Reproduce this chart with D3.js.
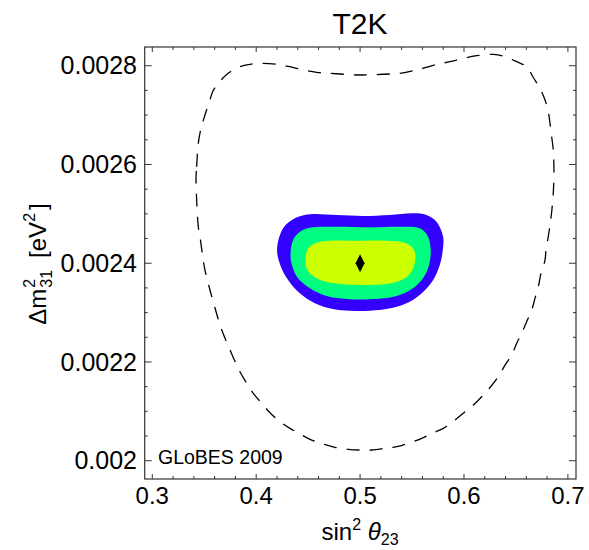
<!DOCTYPE html>
<html><head><meta charset="utf-8">
<script src="https://cdn.jsdelivr.net/npm/d3@7"></script>
<style>body{margin:0;background:#fff} text{font-family:"Liberation Sans",Arial,Helvetica,sans-serif;fill:#000}</style>
</head><body><svg id="c" width="589" height="550"></svg>
<script>
const title = "T2K";
const xTicks = [0.3, 0.4, 0.5, 0.6, 0.7];
const xTickLabels = ["0.3", "0.4", "0.5", "0.6", "0.7"];
const yTicks = [0.002, 0.0022, 0.0024, 0.0026, 0.0028];
const yTickLabels = ["0.002", "0.0022", "0.0024", "0.0026", "0.0028"];
const bestFit = [0.5, 0.0024];
const stamp = "GLoBES 2009";

// dashed contour: [sin^2 theta23, dm31^2 (eV^2)]
const dashedContour = [
 [0.3421,2.5726e-3],[0.3427,2.5954e-3],[0.3443,2.6428e-3],[0.3469,2.6732e-3],[0.3507,2.7002e-3],
 [0.3555,2.7305e-3],[0.3584,2.7488e-3],[0.3635,2.7644e-3],[0.3731,2.7846e-3],[0.3844,2.7980e-3],
 [0.3940,2.8028e-3],[0.4068,2.8049e-3],[0.4197,2.8028e-3],[0.4325,2.7980e-3],[0.4453,2.7913e-3],
 [0.4582,2.7866e-3],[0.4710,2.7846e-3],[0.4855,2.7826e-3],[0.4999,2.7812e-3],[0.5143,2.7818e-3],
 [0.5288,2.7832e-3],[0.5384,2.7846e-3],[0.5545,2.7913e-3],[0.5737,2.8028e-3],[0.5865,2.8081e-3],
 [0.5993,2.8150e-3],[0.6122,2.8203e-3],[0.6282,2.8231e-3],[0.6378,2.8196e-3],[0.6507,2.8081e-3],
 [0.6603,2.7980e-3],[0.6667,2.7761e-3],[0.6731,2.7542e-3],[0.6780,2.7305e-3],[0.6811,2.7068e-3],
 [0.6828,2.6833e-3],[0.6844,2.6562e-3],[0.6859,2.6293e-3],[0.6866,2.5821e-3],[0.6859,2.5416e-3],
 [0.6844,2.5043e-3],[0.6828,2.4774e-3],[0.6811,2.4537e-3],[0.6789,2.4267e-3],[0.6780,2.4065e-3],
 [0.6741,2.3795e-3],[0.6715,2.3524e-3],[0.6683,2.3289e-3],[0.6652,2.3052e-3],[0.6603,2.2815e-3],
 [0.6555,2.2580e-3],[0.6507,2.2378e-3],[0.6459,2.2141e-3],[0.6395,2.1938e-3],[0.6330,2.1701e-3],
 [0.6257,2.1499e-3],[0.6186,2.1331e-3],[0.6090,2.1128e-3],[0.5993,2.0960e-3],[0.5913,2.0824e-3],
 [0.5801,2.0656e-3],[0.5705,2.0567e-3],[0.5593,2.0454e-3],[0.5480,2.0365e-3],[0.5352,2.0284e-3],
 [0.5240,2.0251e-3],[0.5112,2.0217e-3],[0.4999,2.0217e-3],[0.4886,2.0231e-3],[0.4758,2.0271e-3],
 [0.4646,2.0338e-3],[0.4534,2.0419e-3],[0.4422,2.0541e-3],[0.4325,2.0656e-3],[0.4229,2.0790e-3],
 [0.4133,2.0972e-3],[0.4053,2.1163e-3],[0.3972,2.1365e-3],[0.3909,2.1568e-3],[0.3844,2.1803e-3],
 [0.3748,2.2242e-3],[0.3700,2.2479e-3],[0.3652,2.2748e-3],[0.3587,2.3220e-3],[0.3555,2.3457e-3],
 [0.3507,2.3862e-3],[0.3481,2.4201e-3],[0.3466,2.4436e-3],[0.3443,2.4739e-3],[0.3427,2.5280e-3]
];

// filled contours (outer to inner)
const contourBlue = [
 [0.4201,2.4267e-3],[0.4259,2.4707e-3],[0.4372,2.4909e-3],[0.4516,2.4990e-3],[0.4773,2.4976e-3],
 [0.5029,2.4956e-3],[0.5286,2.4976e-3],[0.5510,2.5011e-3],[0.5639,2.4976e-3],[0.5735,2.4841e-3],
 [0.5799,2.4537e-3],[0.5796,2.4267e-3],[0.5767,2.3964e-3],[0.5703,2.3660e-3],[0.5606,2.3417e-3],
 [0.5478,2.3220e-3],[0.5318,2.3099e-3],[0.5093,2.3038e-3],[0.4901,2.3038e-3],[0.4737,2.3072e-3],
 [0.4564,2.3188e-3],[0.4420,2.3390e-3],[0.4307,2.3660e-3],[0.4243,2.3903e-3]
];
const contourGreen = [
 [0.4330,2.4166e-3],[0.4355,2.4470e-3],[0.4420,2.4638e-3],[0.4516,2.4719e-3],[0.4773,2.4739e-3],
 [0.5093,2.4727e-3],[0.5414,2.4739e-3],[0.5575,2.4707e-3],[0.5654,2.4537e-3],[0.5680,2.4267e-3],
 [0.5664,2.3964e-3],[0.5606,2.3694e-3],[0.5510,2.3492e-3],[0.5350,2.3336e-3],[0.5093,2.3269e-3],
 [0.4869,2.3275e-3],[0.4677,2.3336e-3],[0.4516,2.3492e-3],[0.4403,2.3694e-3],[0.4349,2.3929e-3]
];
const contourYellow = [
 [0.4474,2.4065e-3],[0.4500,2.4302e-3],[0.4580,2.4415e-3],[0.4708,2.4456e-3],[0.4997,2.4456e-3],
 [0.5254,2.4456e-3],[0.5430,2.4415e-3],[0.5510,2.4302e-3],[0.5533,2.4132e-3],[0.5510,2.3897e-3],
 [0.5447,2.3714e-3],[0.5318,2.3605e-3],[0.5093,2.3558e-3],[0.4836,2.3573e-3],[0.4644,2.3639e-3],
 [0.4532,2.3761e-3],[0.4484,2.3897e-3]
];
const fillColors = ["#3300ff", "#00ff80", "#ccff00"];

const svg = d3.select("#c");
const L = 144.7, R = 576, T = 47, B = 479;
const x = d3.scaleLinear().domain([0.2927, 0.7078]).range([L, R]);
const y = d3.scaleLinear().domain([0.0019630, 0.0028379]).range([B, T]);

svg.append("defs").append("clipPath").attr("id", "clip")
  .append("rect").attr("x", L).attr("y", T).attr("width", R - L).attr("height", B - T);
const plot = svg.append("g").attr("clip-path", "url(#clip)");

const line = d3.line().x(d => x(d[0])).y(d => y(d[1])).curve(d3.curveCatmullRomClosed.alpha(0.5));

[contourBlue, contourGreen, contourYellow].forEach((c, i) => {
  plot.append("path").attr("d", line(c)).attr("fill", fillColors[i]).attr("stroke", "none");
});
plot.append("path").attr("d", line(dashedContour)).attr("fill", "none")
  .attr("stroke", "#000").attr("stroke-width", 1.3).attr("stroke-dasharray", "13,10");

// best-fit diamond
plot.append("path")
  .attr("d", d3.symbol().type(d3.symbolDiamond).size(70)())
  .attr("transform", `translate(${x(bestFit[0])},${y(bestFit[1])}) scale(1,1.15)`)
  .attr("fill", "#000");

// frame
const frame = svg.append("g");
frame.append("rect").attr("x", L).attr("y", T).attr("width", R - L).attr("height", B - T)
  .attr("fill", "none").attr("stroke", "#333").attr("stroke-width", 1.2);

const xMinor = d3.range(0.28, 0.72, 0.02).filter(v => v > 0.293 && v < 0.707);
const yMinor = d3.range(0.00195, 0.00285, 0.00005).filter(v => v > 0.001964 && v < 0.002837);
const tk = frame.append("g").attr("stroke", "#333").attr("stroke-width", 1);
xMinor.forEach(v => {
  const major = xTicks.some(t => Math.abs(t - v) < 1e-6);
  const len = major ? 5 : 3;
  tk.append("line").attr("x1", x(v)).attr("x2", x(v)).attr("y1", B).attr("y2", B - len);
  tk.append("line").attr("x1", x(v)).attr("x2", x(v)).attr("y1", T).attr("y2", T + len);
});
yMinor.forEach(v => {
  const major = yTicks.some(t => Math.abs(t - v) < 1e-9);
  const len = major ? 7 : 3;
  tk.append("line").attr("y1", y(v)).attr("y2", y(v)).attr("x1", L).attr("x2", L + len);
  tk.append("line").attr("y1", y(v)).attr("y2", y(v)).attr("x1", R).attr("x2", R - len);
});

xTicks.forEach((v, i) => {
  svg.append("text").attr("x", x(v)).attr("y", 504).attr("text-anchor", "middle")
    .attr("font-size", 24).text(xTickLabels[i]);
});
yTicks.forEach((v, i) => {
  svg.append("text").attr("x", 137).attr("y", y(v)).attr("dy", "0.35em").attr("text-anchor", "end")
    .attr("font-size", 25).text(yTickLabels[i]);
});

// title
svg.append("text").attr("x", 360).attr("y", 34).attr("text-anchor", "middle")
  .attr("font-size", 30).text(title);

// stamp
svg.append("text").attr("x", 158).attr("y", 464).attr("font-size", 19.5).text(stamp);

// x label: sin^2 theta_23
const xl = svg.append("text").attr("x", 360).attr("y", 540).attr("text-anchor", "middle").attr("font-size", 24);
xl.append("tspan").text("sin");
xl.append("tspan").attr("font-size", 16).attr("dy", -10).text("2");
xl.append("tspan").attr("dy", 10).text(" ");
xl.append("tspan").attr("font-style", "italic").text("θ");
xl.append("tspan").attr("font-size", 16).attr("dy", 5).text("23");

// y label: Δm^2_31 [eV^2], rotated
const yg = svg.append("g").attr("transform", "translate(46,264) rotate(-90)");
const fs = 24, fsS = 16;
const t1 = yg.append("text").attr("font-size", fs).text("Δm");
const w1 = t1.node().getComputedTextLength();
const sup = yg.append("text").attr("font-size", fsS).text("2");
const sub = yg.append("text").attr("font-size", fsS).text("31");
const wS = Math.max(sup.node().getComputedTextLength(), sub.node().getComputedTextLength());
const t2 = yg.append("text").attr("font-size", fs).text("\u2002[eV");
const w2 = t2.node().getComputedTextLength();
const sup2 = yg.append("text").attr("font-size", fsS).text("2");
const w3 = sup2.node().getComputedTextLength();
const t3 = yg.append("text").attr("font-size", fs).text("]");
const w4 = t3.node().getComputedTextLength();
const total = w1 + 1 + wS + w2 + w3 + 3 + w4;
let cx = -total / 2;
t1.attr("x", cx); cx += w1 + 1;
sup.attr("x", cx).attr("y", -11);
sub.attr("x", cx).attr("y", 6); cx += wS;
t2.attr("x", cx); cx += w2;
sup2.attr("x", cx).attr("y", -11); cx += w3 + 3;
t3.attr("x", cx);
</script></body></html>
